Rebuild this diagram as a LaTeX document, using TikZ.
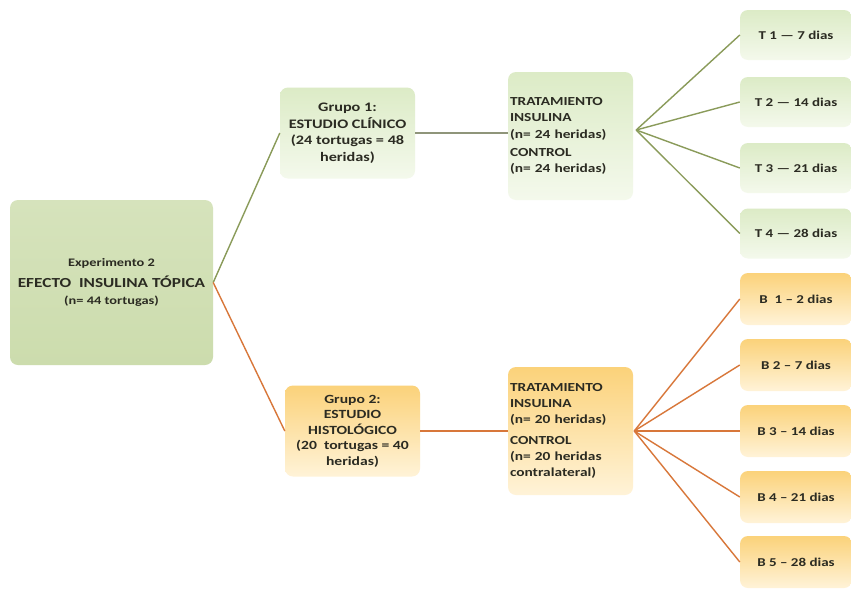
\documentclass[tikz,border=0pt]{standalone}
\usepackage{fontspec}
\setmainfont[FakeStretch=1.25]{Carlito}
\definecolor{mainfill}{HTML}{D6E3BC}
\definecolor{mainfillb}{HTML}{CCDCAD}
\definecolor{gtop}{HTML}{DCEBC6}
\definecolor{gbot}{HTML}{F4F9EC}
\definecolor{otop}{HTML}{FBD27A}
\definecolor{obot}{HTML}{FFF3D8}
\definecolor{gline}{HTML}{8A9B5A}
\definecolor{oline}{HTML}{D8773A}
\definecolor{mline}{HTML}{8F957A}
\definecolor{txt}{HTML}{2B2B22}
\begin{document}
\begin{tikzpicture}[x=1pt,y=-1pt,
  box/.style={rounded corners=8pt, draw=none, inner sep=2pt, text=txt, font=\bfseries},
  mainbox/.style={box, top color=mainfill, bottom color=mainfillb, minimum width=203pt, minimum height=165pt, align=center, font=\bfseries\fontsize{11.5}{14}\selectfont},
  gbox/.style={box, top color=gtop, bottom color=gbot},
  obox/.style={box, top color=otop, bottom color=obot},
  grp/.style={minimum width=135pt, minimum height=91pt, align=center, font=\bfseries\fontsize{13}{16.5}\selectfont},
  trat/.style={minimum width=125pt, minimum height=128pt, align=left, text width=121pt, font=\bfseries\fontsize{12.3}{16.3}\selectfont},
  day/.style={minimum width=112pt, minimum height=50pt, align=center, font=\bfseries\fontsize{12}{14}\selectfont},
  gl/.style={draw=gline, line width=1.4pt},
  ol/.style={draw=oline, line width=1.4pt},
  ml/.style={draw=mline, line width=1.4pt}
]
\useasboundingbox (0,0) rectangle (851,589);
\fill[white] (0,0) rectangle (851,589);

\node[mainbox] (m) at (111.5,282.5) {Experimento 2\\[7pt]
  {\fontsize{13.8}{17}\selectfont EFECTO\ \ INSULINA TÓPICA}\\[3pt]
  (n= 44 tortugas)};

\node[gbox,grp] (g1) at (347.5,133) {Grupo 1:\\ESTUDIO CLÍNICO\\(24 tortugas = 48\\heridas)};
\node[obox,grp,font=\bfseries\fontsize{12.5}{15.5}\selectfont] (g2) at (352.5,431) {Grupo 2:\\ESTUDIO\\HISTOLÓGICO\\(20\ \ tortugas = 40\\heridas)};

\node[gbox,trat] (t1) at (570.5,136) {TRATAMIENTO\\INSULINA\\(n= 24 heridas)\\[2pt]CONTROL\\(n= 24 heridas)};
\node[obox,trat] (t2) at (570.5,431) {TRATAMIENTO\\INSULINA\\(n= 20 heridas)\\[4pt]CONTROL\\(n= 20 heridas\\contralateral)};

\node[gbox,day] (d1) at (796,35) {T 1 — 7 dias};
\node[gbox,day] (d2) at (796,102) {T 2 — 14 dias};
\node[gbox,day] (d3) at (796,168) {T 3 — 21 dias};
\node[gbox,day] (d4) at (796,233.5) {T 4 — 28 dias};

\node[obox,day,minimum height=52pt] (b1) at (796,299) {B\ \ 1 – 2 dias};
\node[obox,day,minimum height=52pt] (b2) at (796,365) {B 2 – 7 dias};
\node[obox,day,minimum height=52pt] (b3) at (796,431) {B 3 – 14 dias};
\node[obox,day,minimum height=52pt] (b4) at (796,497) {B 4 – 21 dias};
\node[obox,day,minimum height=52pt] (b5) at (796,562) {B 5 – 28 dias};

\coordinate (mo) at (m.east);
\coordinate (f1) at ([xshift=3pt,yshift=6pt]t1.east);
\coordinate (f2) at ([xshift=1pt]t2.east);

\draw[gl] (mo) -- (g1.west);
\draw[ol] (mo) -- (g2.west);
\draw[ml] (g1.east) -- (t1.west |- g1.east);
\draw[ol] (g2.east) -- (t2.west |- g2.east);

\foreach \d in {d1,d2,d3,d4} \draw[gl] (f1) -- (\d.west);
\foreach \b in {b1,b2,b3,b4,b5} \draw[ol] (f2) -- (\b.west);
\end{tikzpicture}
\end{document}
